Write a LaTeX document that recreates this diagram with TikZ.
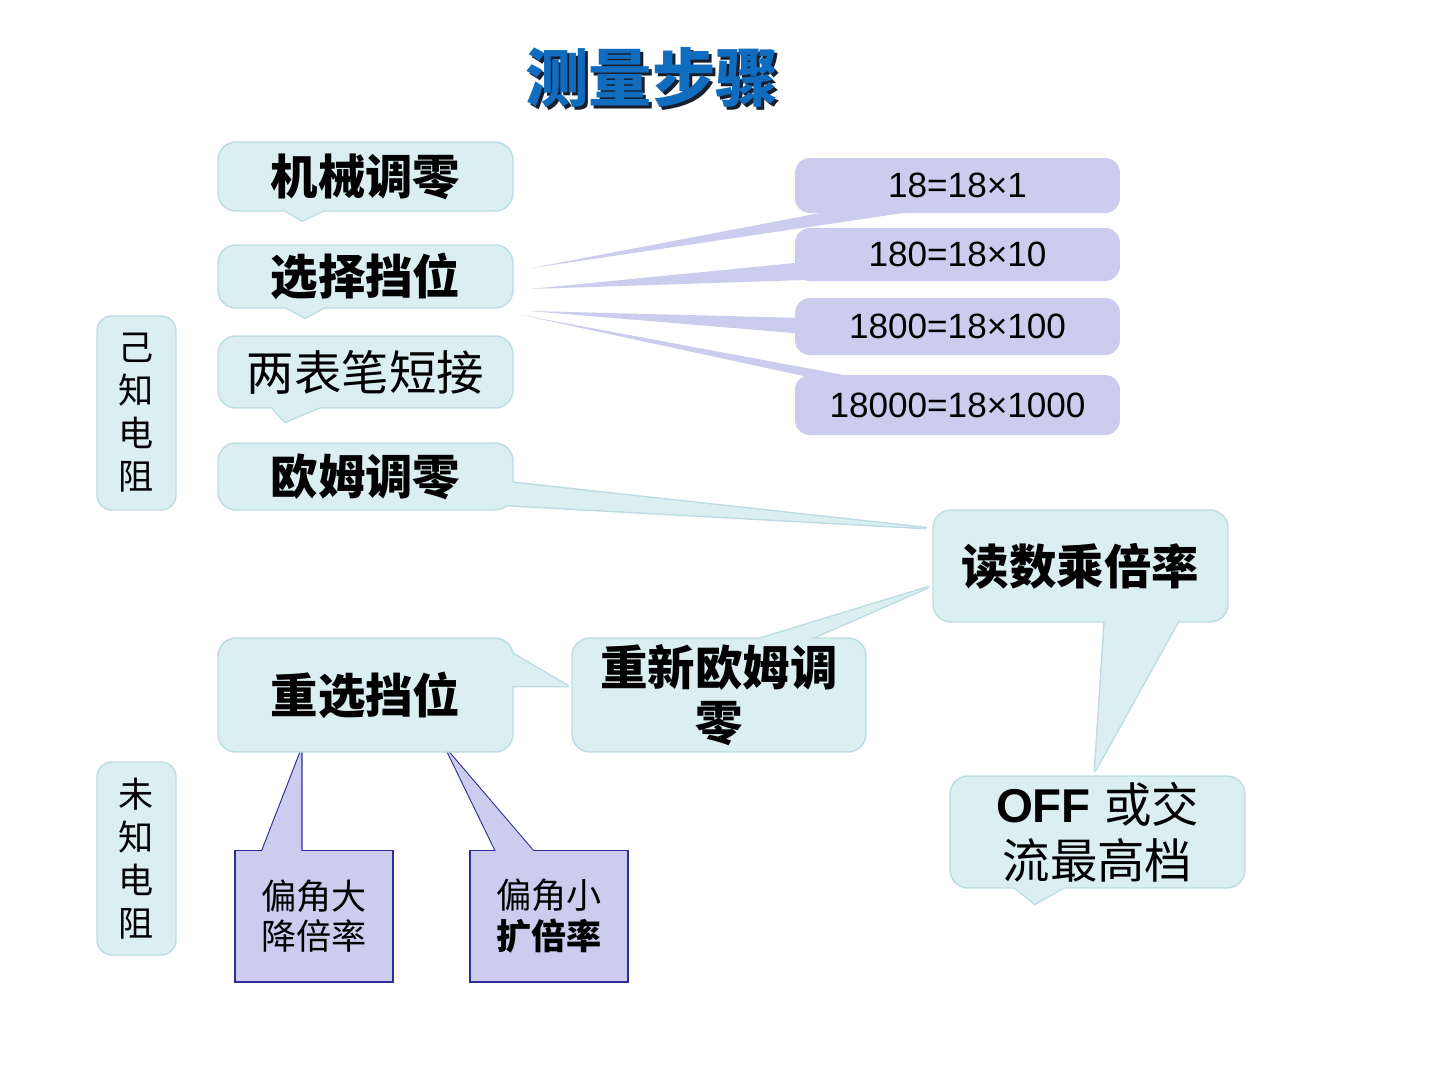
\documentclass[tikz,border=0pt]{standalone}
\usepackage{fontspec}
\setmainfont{Liberation Sans}
\newfontfamily\cjk{Noto Sans CJK SC}
\usetikzlibrary{calc}
\pgfdeclarelayer{bg}\pgfdeclarelayer{fg}
\pgfsetlayers{bg,main,fg}
\definecolor{cyfill}{RGB}{219,239,241}
\definecolor{cyline}{RGB}{186,220,226}
\definecolor{lav}{RGB}{204,204,238}
\definecolor{rline}{RGB}{45,45,150}
\definecolor{ttl}{RGB}{16,108,190}
\definecolor{ttlsh}{RGB}{25,30,45}
\tikzset{
 cbox/.style={rectangle, rounded corners=0.36cm, fill=cyfill, draw=cyline, line width=0.8pt, inner sep=0pt, minimum width=5.9cm, align=center, font=\cjk\bfseries\fontsize{27}{31}\selectfont},
 vbox/.style={rectangle, rounded corners=0.3cm, fill=cyfill, draw=cyline, line width=0.8pt, inner sep=0pt, minimum width=1.58cm, align=center, font=\cjk\fontsize{20}{24.5}\selectfont},
 nbox/.style={rectangle, rounded corners=0.3cm, fill=lav, inner sep=0pt, minimum width=6.5cm, font=\fontsize{20}{24}\selectfont},
 rbox/.style={rectangle, fill=lav, draw=rline, line width=0.6pt, inner sep=0pt, minimum width=3.16cm, minimum height=2.64cm, align=center, font=\cjk\fontsize{20}{23.2}\selectfont},
 ctailb/.style={draw=cyline, line width=1.6pt, fill=cyfill, line join=round},
 ctailf/.style={fill=cyfill},
 ltail/.style={fill=lav},
 rtailb/.style={draw=rline, line width=1.2pt, fill=lav},
 rtailf/.style={fill=lav},
 ttlfont/.style={font=\cjk\bfseries\fontsize{36}{40}\selectfont}
}
\begin{document}
\begin{tikzpicture}[x=0.02cm,y=-0.02cm]
\begin{pgfonlayer}{bg}
\fill[white] (0,0) rectangle (1440,1080);
\end{pgfonlayer}
\useasboundingbox (0,0) rectangle (1440,1080);

% title
\node[ttlfont, text=ttlsh] (titlesh) at (655,81) {测量步骤};
\node[ttlfont, text=ttl] (title) at (652,78) {测量步骤};

% left column
\node[cbox, minimum height=1.38cm] (jx) at (365.5,176.5) {机械调零};
\node[cbox, minimum height=1.26cm] (xz) at (365.5,276.5) {选择挡位};
\node[cbox, minimum height=1.44cm, font=\cjk\fontsize{27}{31}\selectfont] (lb) at (365.5,372) {两表笔短接};
\node[cbox, minimum height=1.34cm] (oz) at (365.5,476.5) {欧姆调零};
\node[cbox, minimum height=2.24cm] (ds) at (1080.5,566) {读数乘倍率};
\node[cbox, minimum height=2.28cm] (cx) at (365.5,695) {重选挡位};
\node[cbox, minimum height=2.28cm, minimum width=5.88cm] (cz) at (719,695) {重新欧姆调\\零};
\node[cbox, minimum height=2.24cm, font=\fontsize{27}{31.8}\selectfont] (off) at (1097.5,832) {{\bfseries OFF} {\cjk 或交}\\{\cjk 流最高档}};

% side labels
\node[vbox, minimum height=3.88cm] (yz) at (136.5,413) {己\\知\\电\\阻};
\node[vbox, minimum height=3.86cm] (wz) at (136.5,858.5) {未\\知\\电\\阻};

% number boxes
\node[nbox, minimum height=1.1cm] (n1) at (957.5,185.5) {18=18×1};
\node[nbox, minimum height=1.06cm] (n2) at (957.5,254.5) {180=18×10};
\node[nbox, minimum height=1.14cm] (n3) at (957.5,326.5) {1800=18×100};
\node[nbox, minimum height=1.2cm] (n4) at (957.5,405) {18000=18×1000};

% bottom rectangles
\node[rbox] (r1) at (314,916) {偏角大\\降倍率};
\node[rbox] (r2) at (549,916) {偏角小\\{\bfseries 扩倍率}};

% tails: borders / fills behind the boxes
\begin{pgfonlayer}{bg}
 \draw[ctailb] ($(jx.south)+(-87.5,-6)$) -- ($(jx.south)+(-63.5,9)$) -- ($(jx.south)+(-32.5,-6)$) -- cycle;
 \draw[ctailb] ($(xz.south)+(-87.5,-6)$) -- ($(xz.south)+(-60.5,9)$) -- ($(xz.south)+(-32.5,-6)$) -- cycle;
 \draw[ctailb] ($(lb.south)+(-97.5,-6)$) -- ($(lb.south)+(-80.5,13)$) -- ($(lb.south)+(-35.5,-6)$) -- cycle;
 \draw[ctailb] ($(oz.east)+(-8,5.5)$) -- ($(oz.east)+(412,51.5)$) -- ($(oz.east)+(-8,28.5)$) -- cycle;
 \draw[ctailb] ($(ds.south)+(24.5,-5)$) -- ($(ds.south)+(14.5,148)$) -- ($(ds.south)+(99.5,-5)$) -- cycle;
 \draw[ctailb] ($(cz.north)+(26,6)$) -- ($(cz.north)+(209,-50)$) -- ($(cz.north)+(81,6)$) -- cycle;
 \draw[ctailb] ($(cx.east)+(-16,-50)$) -- ($(cx.east)+(54,-9)$) -- ($(cx.east)+(-6,-9)$) -- cycle;
 \draw[ctailb] ($(off.south)+(-87.5,-5)$) -- ($(off.south)+(-62.5,15)$) -- ($(off.south)+(-27.5,-5)$) -- cycle;
 \fill[ltail] ($(n1.south west)+(50,-5)$) -- ($(n1.south west)+(-265,55)$) -- ($(n1.south west)+(140,-5)$) -- cycle;
 \fill[ltail] ($(n2.west)+(10,7.5)$) -- ($(n2.west)+(-265,34.5)$) -- ($(n2.west)+(10,25.5)$) -- cycle;
 \fill[ltail] ($(n3.west)+(10,-8.5)$) -- ($(n3.west)+(-265,-15.5)$) -- ($(n3.west)+(10,7.5)$) -- cycle;
 \fill[ltail] ($(n4.north west)+(35,7)$) -- ($(n4.north west)+(-275,-60)$) -- ($(n4.north west)+(85,7)$) -- cycle;
 \draw[rtailb] ($(r1.north west)+(27,3)$) -- ($(r1.north west)+(67,-100)$) -- ($(r1.north west)+(67,3)$) -- cycle;
 \draw[rtailb] ($(r2.north west)+(27,3)$) -- ($(r2.north west)+(-23,-100)$) -- ($(r2.north west)+(65,3)$) -- cycle;
\end{pgfonlayer}

% tails: fills over the box borders, so each callout is one shape
\begin{pgfonlayer}{fg}
 \fill[ctailf] ($(jx.south)+(-87.5,-6)$) -- ($(jx.south)+(-63.5,9)$) -- ($(jx.south)+(-32.5,-6)$) -- cycle;
 \fill[ctailf] ($(xz.south)+(-87.5,-6)$) -- ($(xz.south)+(-60.5,9)$) -- ($(xz.south)+(-32.5,-6)$) -- cycle;
 \fill[ctailf] ($(lb.south)+(-97.5,-6)$) -- ($(lb.south)+(-80.5,13)$) -- ($(lb.south)+(-35.5,-6)$) -- cycle;
 \fill[ctailf] ($(oz.east)+(-8,5.5)$) -- ($(oz.east)+(412,51.5)$) -- ($(oz.east)+(-8,28.5)$) -- cycle;
 \fill[ctailf] ($(ds.south)+(24.5,-5)$) -- ($(ds.south)+(14.5,148)$) -- ($(ds.south)+(99.5,-5)$) -- cycle;
 \fill[ctailf] ($(cz.north)+(26,6)$) -- ($(cz.north)+(209,-50)$) -- ($(cz.north)+(81,6)$) -- cycle;
 \fill[ctailf] ($(cx.east)+(-16,-50)$) -- ($(cx.east)+(54,-9)$) -- ($(cx.east)+(-6,-9)$) -- cycle;
 \fill[ctailf] ($(off.south)+(-87.5,-5)$) -- ($(off.south)+(-62.5,15)$) -- ($(off.south)+(-27.5,-5)$) -- cycle;
 \fill[rtailf] ($(r1.north west)+(27,3)$) -- ($(r1.north west)+(67,-100)$) -- ($(r1.north west)+(67,3)$) -- cycle;
 \fill[rtailf] ($(r2.north west)+(27,3)$) -- ($(r2.north west)+(-23,-100)$) -- ($(r2.north west)+(65,3)$) -- cycle;
\end{pgfonlayer}
\end{tikzpicture}
\end{document}
